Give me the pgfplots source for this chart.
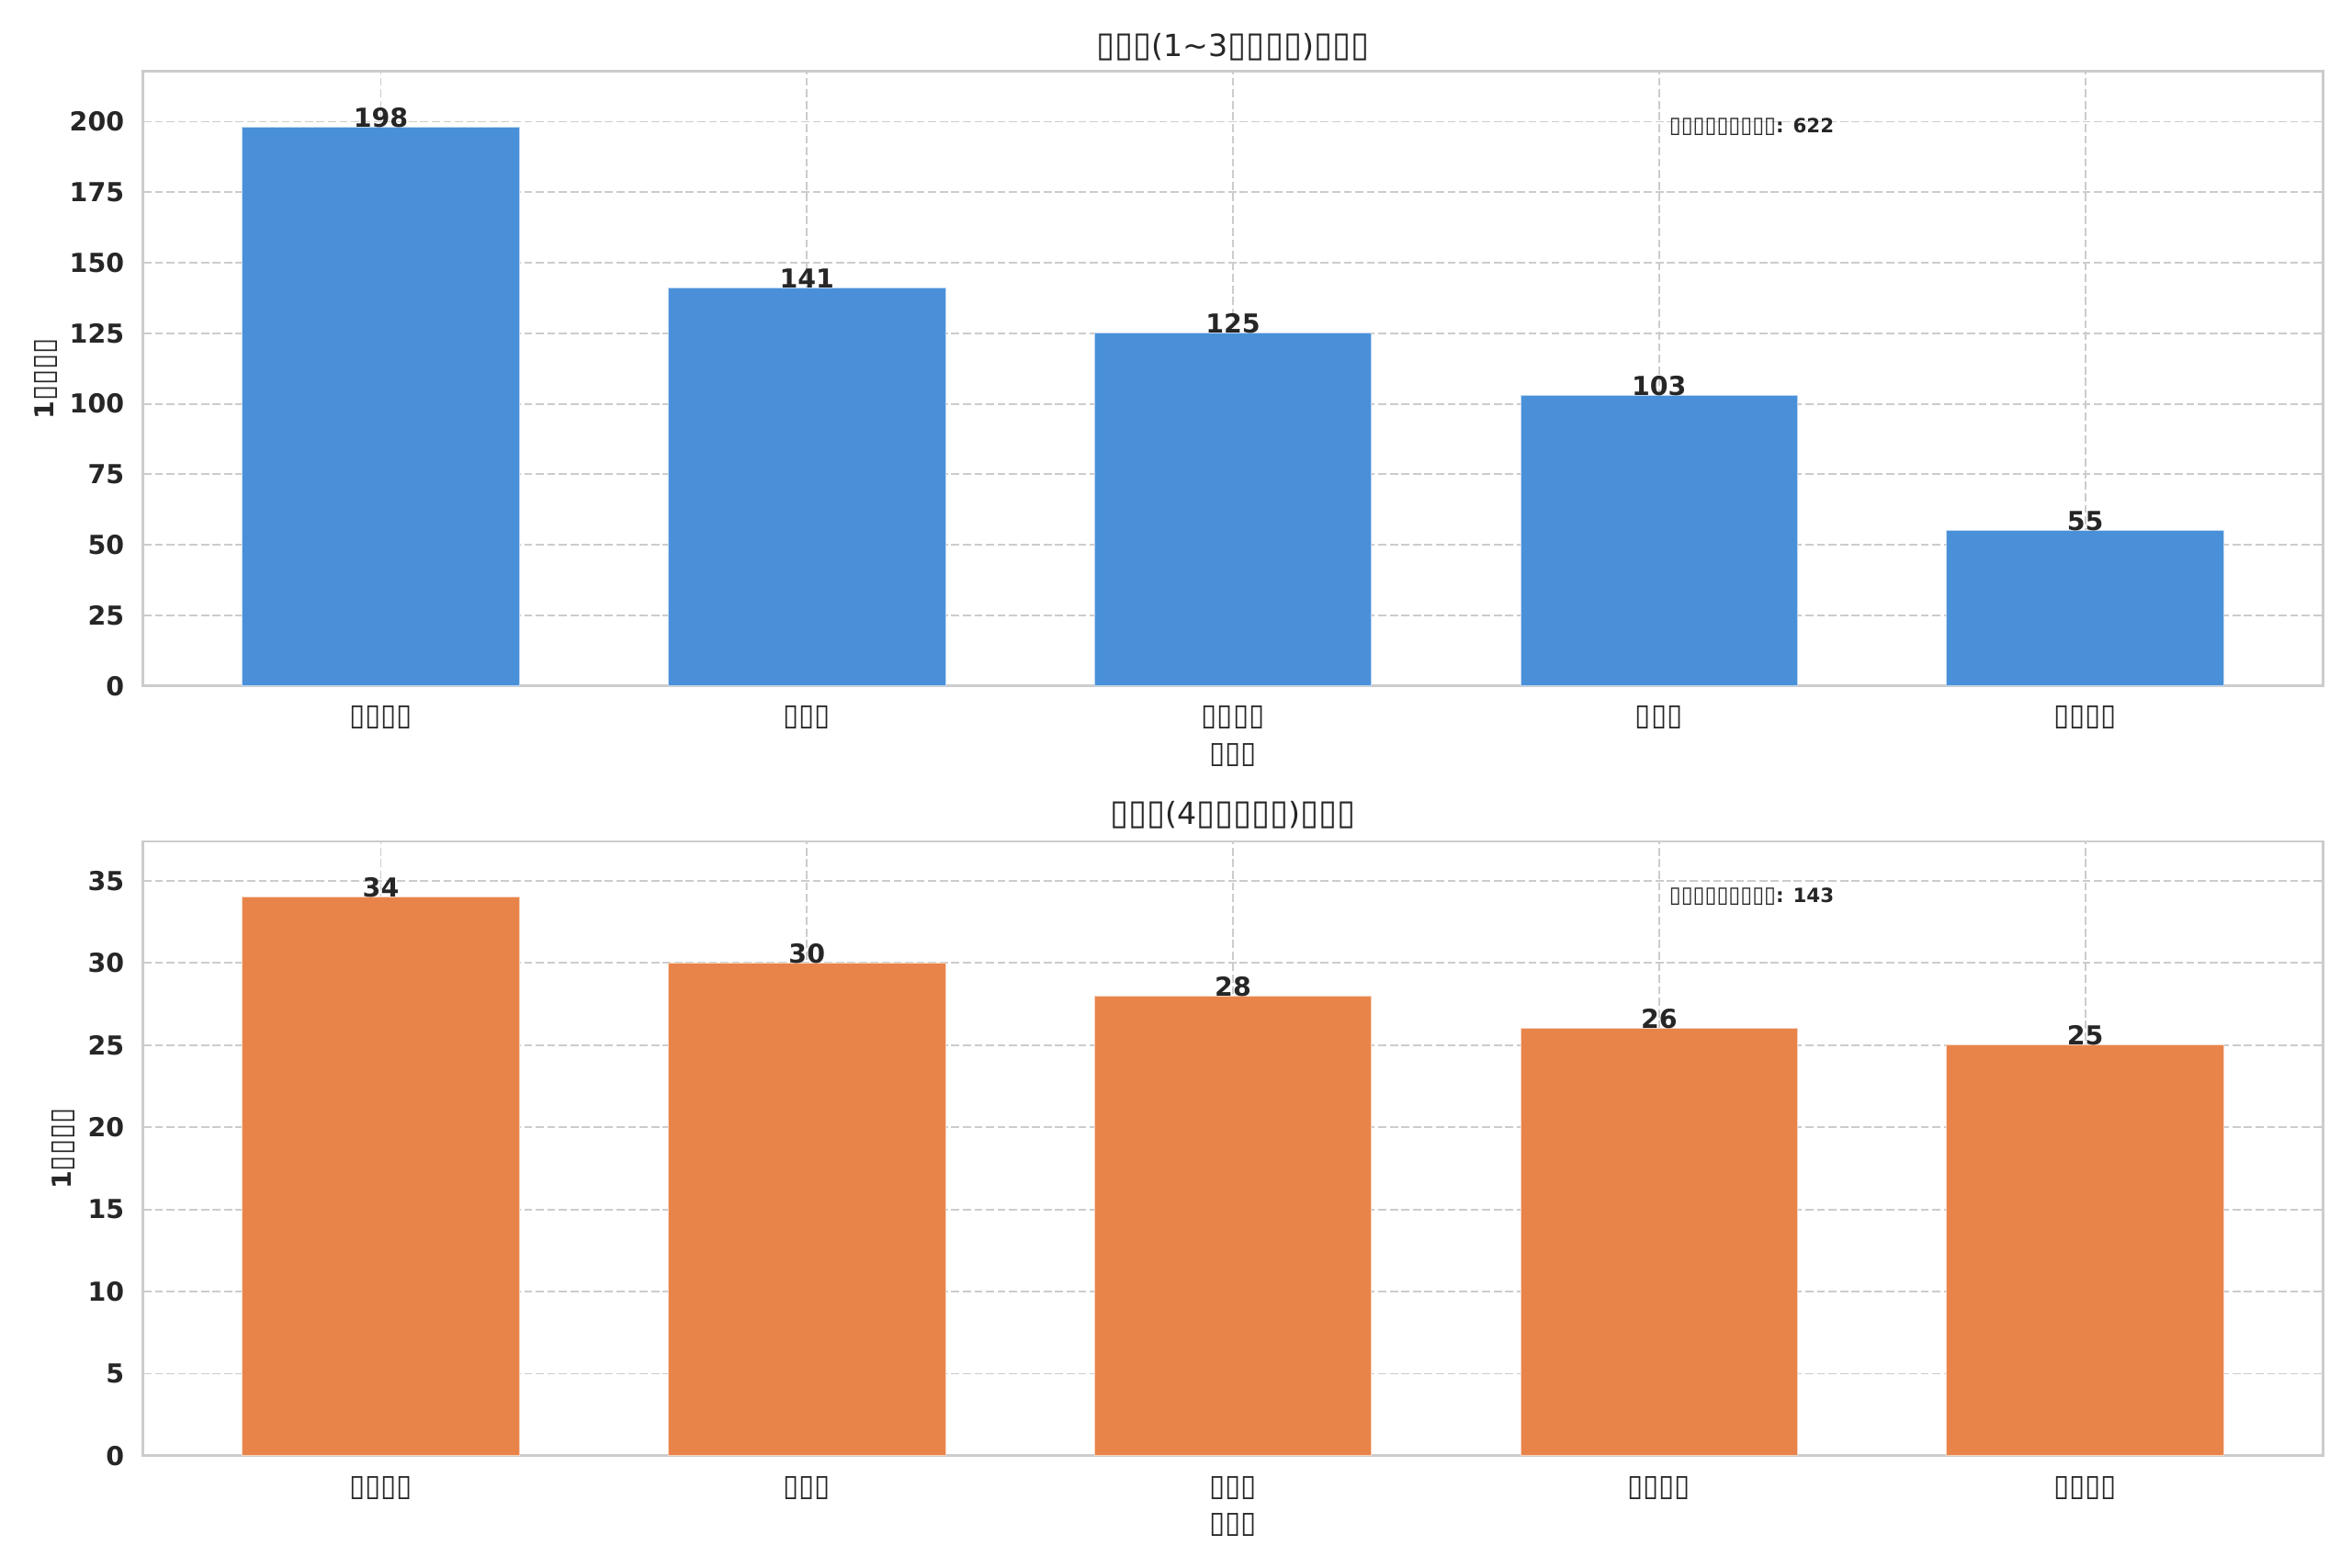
\documentclass[border=0pt]{standalone}
\usepackage{fontspec}
\setmainfont{DejaVu Sans}
\usepackage{graphicx}
\usepackage{pgfplots}
\pgfplotsset{compat=1.18}
\newcommand\T[1]{\scalebox{1.1}[1.15]{#1}}
\definecolor{barblue}{HTML}{4A90D9}
\definecolor{barorange}{HTML}{E8844A}
\definecolor{gridc}{HTML}{CCCCCC}
\definecolor{txt}{HTML}{262626}
\pgfplotsset{
  mystyle/.style={
    scale only axis, width=1000.7bp, height=282.2bp,
    xmin=-0.5575, xmax=4.5575, ymin=0,
    xtick={0,1,2,3,4},
    grid=major,
    major grid style={draw=gridc, line width=0.8bp, dash pattern=on 3.7bp off 1.6bp},
    axis line style={draw=gridc, line width=1.25bp},
    major tick length=0pt,
    tick style={draw=none},
    /pgf/number format/assume math mode=true,
    ticklabel style={font=\fontsize{12bp}{14bp}\selectfont\bfseries, text=txt},
    yticklabel style={anchor=east, inner sep=0pt, xshift=-8.6bp},
    xticklabel style={anchor=base, inner sep=0pt, yshift=-18.2bp},
    xlabel style={at={(axis description cs:0.5,0)}, anchor=base, inner sep=0pt, yshift=-35.4bp, font=\fontsize{12bp}{14bp}\selectfont\bfseries, text=txt},
    ylabel style={at={(ticklabel cs:0.5,7.4bp)}, anchor=base, inner sep=0pt, font=\fontsize{12bp}{14bp}\selectfont\bfseries, text=txt},
    title style={at={(axis description cs:0.5,1)}, anchor=base, inner sep=0pt, font=\fontsize{14bp}{17bp}\selectfont, text=txt},
  },
  mybars/.style={ybar, bar width=0.65, fill=#1, draw=white!65!#1, line width=0.4bp,
    nodes near coords,
    every node near coord/.append style={anchor=base, inner sep=0pt, yshift=0pt, font=\fontsize{12bp}{14bp}\selectfont\bfseries, text=txt}},
}
\begin{document}
\begin{tikzpicture}
\path[use as bounding box] (0,0) rectangle (1080bp,720.14bp);
\begin{axis}[mystyle, at={(65.8bp,405.1bp)}, anchor=south west,
  ymax=217.8, ytick={0,25,...,200},
  xticklabels={{\T{▯▯▯▯}},{\T{▯▯▯}},{\T{▯▯▯▯}},{\T{▯▯▯}},{\T{▯▯▯▯}}},
  xlabel={\T{▯▯▯}},
  ylabel={1\T{▯▯▯▯}},
  title={\T{▯▯▯}(1\textasciitilde 3\T{▯▯▯▯})\T{▯▯▯}},
  title style={yshift=1bp}]
\addplot[mybars=barblue] coordinates {(0,198) (1,141) (2,125) (3,103) (4,55)};
\node[anchor=base west, inner sep=0pt, font=\fontsize{9bp}{11bp}\selectfont\bfseries, text=txt] at (rel axis cs:0.7,0.9) {\T{▯▯▯▯▯▯▯▯▯}: 622};
\end{axis}
\begin{axis}[mystyle, at={(65.8bp,51.5bp)}, anchor=south west,
  ymax=37.4, ytick={0,5,...,35},
  xticklabels={{\T{▯▯▯▯}},{\T{▯▯▯}},{\T{▯▯▯}},{\T{▯▯▯▯}},{\T{▯▯▯▯}}},
  xlabel={\T{▯▯▯}},
  ylabel={1\T{▯▯▯▯}},
  title={\T{▯▯▯}(4\T{▯▯▯▯▯})\T{▯▯▯}},
  title style={yshift=1.9bp}]
\addplot[mybars=barorange] coordinates {(0,34) (1,30) (2,28) (3,26) (4,25)};
\node[anchor=base west, inner sep=0pt, font=\fontsize{9bp}{11bp}\selectfont\bfseries, text=txt] at (rel axis cs:0.7,0.9) {\T{▯▯▯▯▯▯▯▯▯}: 143};
\end{axis}
\end{tikzpicture}
\end{document}
